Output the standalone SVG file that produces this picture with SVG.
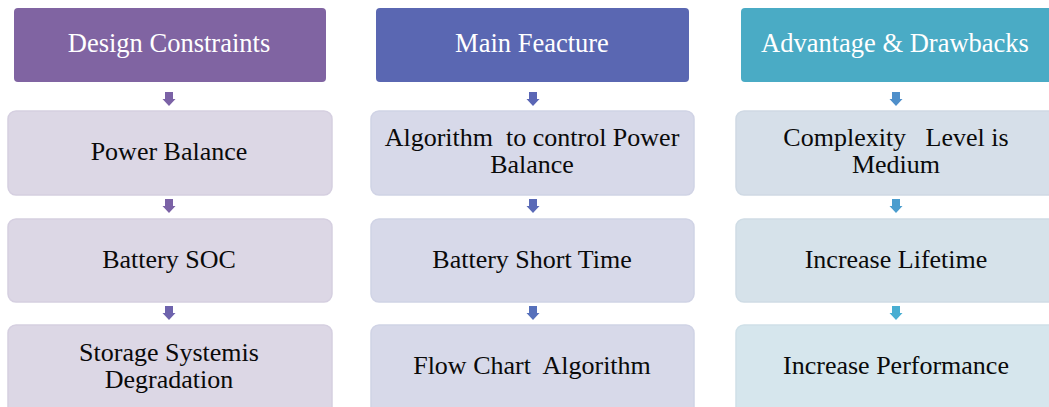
<svg xmlns="http://www.w3.org/2000/svg" width="1049" height="407" viewBox="0 0 1049 407">
  <style>
    text { font-family: 'Liberation Serif', 'Times New Roman', serif; font-size: 26px; text-anchor: middle; }
    .hdr-text { fill: #ffffff; font-size: 26.5px; }
    .box-text { fill: #0a0a0a; }
    .box { stroke-width: 1.5; }
  </style>
  <defs>
    <path id="arrow" d="M -4 0 H 4 V 7 H 6.5 L 0 14 L -6.5 7 H -4 Z"/>
  </defs>
  <rect width="1049" height="407" fill="#ffffff"/>

  <!-- column 1 -->
  <g id="design-constraints">
    <rect x="14" y="8" width="312" height="74" rx="4" fill="#8064a2"/>
    <text class="hdr-text" x="169" y="52">Design Constraints</text>
  </g>
  <g id="power-balance">
    <rect class="box" x="8" y="111" width="324" height="84" rx="8" fill="#dcd7e5" stroke="#d5cfe0"/>
    <text class="box-text" x="169" y="160">Power Balance</text>
  </g>
  <g id="battery-soc">
    <rect class="box" x="8" y="219" width="324" height="83" rx="8" fill="#dcd7e5" stroke="#d5cfe0"/>
    <text class="box-text" x="169" y="268">Battery SOC</text>
  </g>
  <g id="storage-degradation">
    <rect class="box" x="8" y="325" width="324" height="90" rx="8" fill="#dcd7e5" stroke="#d5cfe0"/>
    <text class="box-text" x="169" y="361">Storage Systemis</text>
    <text class="box-text" x="169" y="388">Degradation</text>
  </g>

  <!-- column 2 -->
  <g id="main-feature">
    <rect x="376" y="8" width="313" height="74" rx="4" fill="#5a67b2"/>
    <text class="hdr-text" x="532" y="52">Main Feacture</text>
  </g>
  <g id="algorithm-power-balance">
    <rect class="box" x="371" y="111" width="323" height="84" rx="8" fill="#d7d9e9" stroke="#d0d3e5"/>
    <text class="box-text" x="532" y="146" xml:space="preserve">Algorithm  to control Power</text>
    <text class="box-text" x="532" y="173">Balance</text>
  </g>
  <g id="battery-short-time">
    <rect class="box" x="371" y="219" width="323" height="83" rx="8" fill="#d7d9e9" stroke="#d0d3e5"/>
    <text class="box-text" x="532" y="268">Battery Short Time</text>
  </g>
  <g id="flow-chart-algorithm">
    <rect class="box" x="371" y="325" width="323" height="90" rx="8" fill="#d7d9e9" stroke="#d0d3e5"/>
    <text class="box-text" x="532" y="374" xml:space="preserve">Flow Chart  Algorithm</text>
  </g>

  <!-- column 3 -->
  <g id="advantage-drawbacks">
    <rect x="741" y="8" width="320" height="74" rx="4" fill="#4aabc5"/>
    <text class="hdr-text" x="895" y="52">Advantage &amp; Drawbacks</text>
  </g>
  <g id="complexity-level">
    <rect class="box" x="736" y="111" width="330" height="84" rx="8" fill="#d6dfe9" stroke="#cfd9e4"/>
    <text class="box-text" x="896" y="146" xml:space="preserve">Complexity   Level is</text>
    <text class="box-text" x="896" y="173">Medium</text>
  </g>
  <g id="increase-lifetime">
    <rect class="box" x="736" y="219" width="330" height="83" rx="8" fill="#d6e2ea" stroke="#cfdce5"/>
    <text class="box-text" x="896" y="268">Increase Lifetime</text>
  </g>
  <g id="increase-performance">
    <rect class="box" x="736" y="325" width="330" height="90" rx="8" fill="#d6e6ed" stroke="#cfe0e8"/>
    <text class="box-text" x="896" y="374">Increase Performance</text>
  </g>

  <!-- connectors -->
  <g id="connectors">
    <use href="#arrow" x="169" y="92" fill="#7b62a6"/>
    <use href="#arrow" x="169" y="199" fill="#7b62a6"/>
    <use href="#arrow" x="169" y="306" fill="#6e63ad"/>
    <use href="#arrow" x="533" y="92" fill="#5a66b5"/>
    <use href="#arrow" x="533" y="199" fill="#5a6ab7"/>
    <use href="#arrow" x="533" y="306" fill="#5670bb"/>
    <use href="#arrow" x="896" y="92" fill="#4f8fca"/>
    <use href="#arrow" x="896" y="199" fill="#4b9dce"/>
    <use href="#arrow" x="896" y="306" fill="#48aed2"/>
  </g>
</svg>
